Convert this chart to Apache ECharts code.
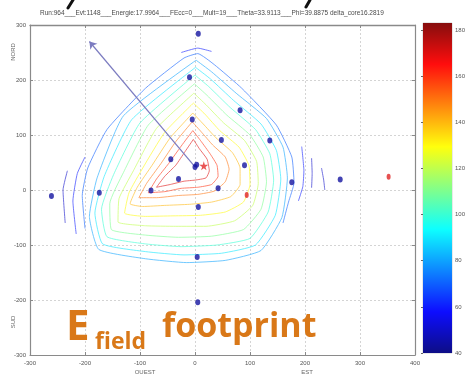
<!DOCTYPE html>
<html>
<head>
<meta charset="utf-8">
<script src="https://cdn.jsdelivr.net/npm/echarts@6/dist/echarts.min.js"></script>
<style>
  html, body { margin: 0; padding: 0; background: #fff; }
  #chart { width: 468px; height: 380px; }
</style>
</head>
<body>
<div id="chart"></div>
<script>
// ---- event header ----
const titleText = 'Run:964___Evt:1148___Energie:17.9964___FEcc=0___Mult=19___Theta=33.9113___Phi=39.8875 delta_core16.2819';

// ---- map extent (metres) ----
const xRange = [-300, 400];
const yRange = [-300, 300];
const gridStep = 100;

// ---- colour scale of the field ----
const cbMin = 40;
const cbMax = 183;
const cbStep = 20;

// ---- detector positions ----
const hitDetectors = [
  [6, 284], [-10, 205], [82, 145], [-5, 128], [48, 91], [136, 90],
  [-44, 56], [0, 42], [3, 46], [90, 45], [-30, 20], [-80, -1],
  [42, 3], [176, 14], [264, 19], [-174, -5], [-261, -11], [6, -31],
  [4, -122], [5, -204]
];
const flaggedDetectors = [[94, -9], [352, 24]];
const showerCore = [[16, 44]];

// ---- projected shower axis, drawn from the core ----
const axisArrow = [[0, 42], [-192, 270]];

// ---- iso-field lines (field value, traced path) ----
const iso170 = [[-3,92],[8,75],[22,56],[26,35],[20,22],[0,18],[-20,16],[-45,10],[-70,5],[-55,25],[-35,45],[-18,70],[-3,92]];
const iso160 = [[-4,108],[10,90],[28,65],[40,45],[42,25],[30,10],[5,5],[-25,3],[-55,-3],[-85,-5],[-70,20],[-48,48],[-25,80],[-4,108]];
const iso150 = [[-5,124],[12,105],[32,82],[55,60],[62,38],[55,15],[35,-2],[5,-8],[-30,-10],[-70,-14],[-102,-14],[-88,12],[-62,48],[-35,88],[-5,124]];
const iso140 = [[-4,140],[15,120],[38,95],[68,68],[82,40],[82,10],[65,-12],[30,-22],[-10,-26],[-55,-28],[-95,-30],[-118,-25],[-105,5],[-78,45],[-45,95],[-4,140]];
const iso130 = [[-3,158],[18,138],[45,108],[80,78],[98,45],[100,10],[88,-22],[55,-40],[10,-46],[-40,-47],[-90,-48],[-128,-42],[-120,-5],[-95,40],[-55,105],[-3,158]];
const iso120 = [[-2,176],[20,155],[52,122],[90,90],[112,52],[115,12],[105,-28],[72,-56],[20,-66],[-35,-66],[-90,-65],[-140,-58],[-138,-15],[-112,35],[-70,112],[-2,176]];
const iso110 = [[-1,193],[22,172],[58,136],[100,100],[124,60],[130,15],[120,-35],[88,-72],[30,-84],[-30,-86],[-90,-82],[-152,-72],[-155,-25],[-130,32],[-85,118],[-1,193]];
const iso100 = [[0,209],[25,188],[64,150],[110,110],[136,66],[143,18],[133,-40],[100,-88],[40,-100],[-25,-103],[-90,-98],[-160,-85],[-170,-35],[-148,28],[-100,122],[0,209]];
const iso90 = [[1,223],[28,202],[70,163],[120,120],[148,72],[156,20],[146,-46],[110,-100],[48,-115],[-20,-118],[-90,-112],[-168,-98],[-182,-42],[-165,25],[-115,128],[1,223]];
const iso80 = [[2,236],[30,215],[76,175],[130,130],[160,78],[168,22],[158,-50],[120,-110],[55,-128],[-15,-132],[-90,-125],[-175,-108],[-192,-48],[-178,22],[-130,135],[2,236]];
const iso70 = [[-200,-70],[-205,-10],[-195,40],[-160,110],[-90,185],[-20,240],[5,248],[35,228],[85,185],[148,118],[176,60],[180,13],[170,-22],[160,-60]];
const iso60a = [[-216,-80],[-222,-20],[-214,30],[-200,60]];
const iso60b = [[-25,250],[5,258],[30,252]];
const iso60c = [[194,79],[198,35],[196,6],[188,-20]];
const iso50a = [[-236,-60],[-240,0],[-232,35]];
const iso50b = [[212,58],[213,30],[212,4]];
const iso50c = [[230,40],[234,18],[236,0]];

const isoLines = [
  [170, iso170], [160, iso160], [150, iso150], [140, iso140],
  [130, iso130], [120, iso120], [110, iso110], [100, iso100],
  [90, iso90], [80, iso80], [70, iso70],
  [60, iso60a], [60, iso60b], [60, iso60c],
  [50, iso50a], [50, iso50b], [50, iso50c]
];

// MATLAB-style jet colour map over the field range
function jetRGB(v) {
  const t = (v - cbMin) / (cbMax - cbMin);
  const c = x => Math.max(0, Math.min(1, x));
  return [c(1.5 - Math.abs(4 * t - 3)), c(1.5 - Math.abs(4 * t - 2)), c(1.5 - Math.abs(4 * t - 1))];
}
function jet(v, wash) {
  const w = wash || 0;
  const [r, g, b] = jetRGB(v).map(x => Math.round(255 * (x * (1 - w) + w)));
  return `rgb(${r},${g},${b})`;
}

const chart = echarts.init(document.getElementById('chart'));

const axisGray = '#8a8a8a';
const smallFont = '"Liberation Sans", Arial, sans-serif';
const labelStyle = { fontSize: 6, color: '#555', fontFamily: smallFont };

const contourSeries = isoLines.map(([level, pts]) => ({
  type: 'line',
  xAxisIndex: 0, yAxisIndex: 0,
  data: pts,
  showSymbol: false,
  smooth: 0.15,
  silent: true,
  z: 2,
  lineStyle: { color: jet(level, 0.3), width: 1, opacity: 0.8 }
}));

const gradStops = [0, 0.125, 0.375, 0.625, 0.875, 1].map(t => ({
  offset: t, color: jet(cbMin + t * (cbMax - cbMin), 0.05)
}));

chart.setOption({
  backgroundColor: '#fff',
  animation: false,
  grid: [
    { left: 30, right: 53, top: 25, bottom: 25 },
    { left: 423, right: 10, top: 23, bottom: 27, show: true, borderColor: '#b0b0b0', borderWidth: 0.6 }
  ],
  xAxis: [
    {
      gridIndex: 0, type: 'value', position: 'bottom',
      min: xRange[0], max: xRange[1], interval: gridStep,
      axisLine: { onZero: false, lineStyle: { color: axisGray, width: 1.2 } },
      axisTick: { inside: true, length: 3, lineStyle: { color: axisGray } },
      axisLabel: Object.assign({ margin: 5 }, labelStyle),
      splitLine: { show: true, lineStyle: { color: '#d4d4d4', type: [2, 2], width: 1 } }
    },
    {
      gridIndex: 0, type: 'value', position: 'top',
      min: xRange[0], max: xRange[1], interval: gridStep,
      axisLine: { onZero: false, lineStyle: { color: axisGray, width: 1.4 } },
      axisTick: { inside: true, length: 3, lineStyle: { color: axisGray } },
      axisLabel: { show: false }, splitLine: { show: false }
    },
    { gridIndex: 1, type: 'value', min: 0, max: 1, show: false }
  ],
  yAxis: [
    {
      gridIndex: 0, type: 'value', position: 'left',
      min: yRange[0], max: yRange[1], interval: gridStep,
      axisLine: { onZero: false, lineStyle: { color: axisGray, width: 1.2 } },
      axisTick: { inside: true, length: 3, lineStyle: { color: axisGray } },
      axisLabel: Object.assign({ margin: 4 }, labelStyle),
      splitLine: { show: true, lineStyle: { color: '#d4d4d4', type: [2, 2], width: 1 } }
    },
    {
      gridIndex: 0, type: 'value', position: 'right',
      min: yRange[0], max: yRange[1], interval: gridStep,
      axisLine: { onZero: false, lineStyle: { color: axisGray, width: 1.2 } },
      axisTick: { inside: true, length: 3, lineStyle: { color: axisGray } },
      axisLabel: { show: false }, splitLine: { show: false }
    },
    {
      gridIndex: 1, type: 'value', position: 'right',
      min: cbMin, max: cbMax, interval: cbStep,
      axisLine: { show: false },
      axisTick: { show: true, inside: true, length: 2, lineStyle: { color: '#666' } },
      axisLabel: Object.assign({ margin: 3, showMaxLabel: false }, labelStyle),
      splitLine: { show: false }
    }
  ],
  series: contourSeries.concat([
    {
      type: 'lines',
      coordinateSystem: 'cartesian2d',
      xAxisIndex: 0, yAxisIndex: 0,
      z: 4, silent: true,
      symbol: ['none', 'arrow'],
      symbolSize: 7,
      lineStyle: { color: '#7c7cc0', width: 1.2, opacity: 1 },
      data: [{ coords: axisArrow }]
    },
    {
      type: 'scatter',
      xAxisIndex: 0, yAxisIndex: 0, z: 5, silent: true,
      symbol: 'circle', symbolSize: [5, 6],
      itemStyle: { color: '#1414a0' },
      data: hitDetectors
    },
    {
      type: 'scatter',
      xAxisIndex: 0, yAxisIndex: 0, z: 5, silent: true,
      symbol: 'circle', symbolSize: [4, 6],
      itemStyle: { color: '#e02424' },
      data: flaggedDetectors
    },
    {
      type: 'scatter',
      xAxisIndex: 0, yAxisIndex: 0, z: 6, silent: true,
      symbol: 'path://M50,0 L61,35 L98,35 L68,57 L79,91 L50,70 L21,91 L32,57 L2,35 L39,35 Z',
      symbolSize: 9,
      itemStyle: { color: '#e42a2a' },
      data: showerCore
    },
    {
      // colour bar drawn on its own value axis
      type: 'custom',
      xAxisIndex: 2, yAxisIndex: 2, silent: true,
      data: [[0, cbMin, cbMax]],
      renderItem: (params, api) => {
        const p0 = api.coord([0, api.value(2)]);
        const p1 = api.coord([1, api.value(1)]);
        return {
          type: 'rect',
          shape: { x: p0[0], y: p0[1], width: p1[0] - p0[0], height: p1[1] - p0[1] },
          style: { fill: new echarts.graphic.LinearGradient(0, 1, 0, 0, gradStops) }
        };
      }
    }
  ]),
  graphic: [
    {
      type: 'text', x: 40, y: 13, z: 10,
      style: { text: titleText, fill: '#4a4a4a', font: '6.5px ' + smallFont, align: 'left', verticalAlign: 'middle' }
    },
    {
      type: 'text', x: 13, y: 52, rotation: Math.PI / 2,
      style: { text: 'NORD', fill: '#666', font: '6px ' + smallFont, align: 'center', verticalAlign: 'middle' }
    },
    {
      type: 'text', x: 13, y: 322, rotation: Math.PI / 2,
      style: { text: 'SUD', fill: '#666', font: '6px ' + smallFont, align: 'center', verticalAlign: 'middle' }
    },
    {
      type: 'text', x: 145, y: 372,
      style: { text: 'OUEST', fill: '#666', font: '6px ' + smallFont, align: 'center', verticalAlign: 'middle' }
    },
    {
      type: 'text', x: 307, y: 372,
      style: { text: 'EST', fill: '#666', font: '6px ' + smallFont, align: 'center', verticalAlign: 'middle' }
    },
    {
      type: 'text', x: 66, y: 328, z: 20,
      style: { text: 'E', fill: '#d97818', font: 'bold 42px "Open Sans", sans-serif', align: 'left', verticalAlign: 'middle' }
    },
    {
      type: 'text', x: 95, y: 342, z: 20,
      style: { text: 'field', fill: '#d97818', font: 'bold 23px "Open Sans", sans-serif', align: 'left', verticalAlign: 'middle' }
    },
    {
      type: 'text', x: 162, y: 327, z: 20,
      style: { text: 'footprint', fill: '#d97818', font: 'bold 34px "Open Sans", sans-serif', align: 'left', verticalAlign: 'middle' }
    },
    {
      type: 'line', z: 20,
      shape: { x1: 73, y1: 0, x2: 68, y2: 8 },
      style: { stroke: '#111', lineWidth: 3, lineCap: 'round' }
    },
    {
      type: 'line', z: 20,
      shape: { x1: 310, y1: 0, x2: 306, y2: 7 },
      style: { stroke: '#111', lineWidth: 3, lineCap: 'round' }
    }
  ]
});
</script>
</body>
</html>
